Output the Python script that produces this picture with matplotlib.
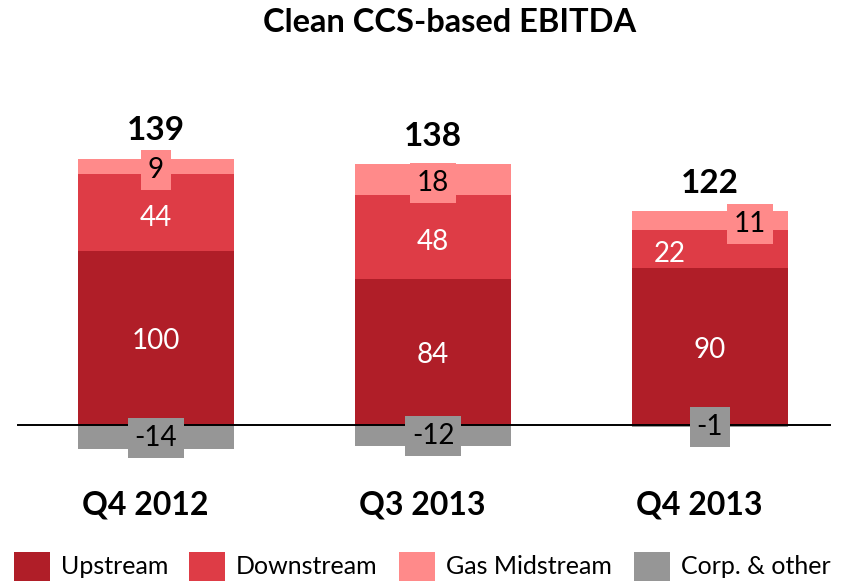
import matplotlib
matplotlib.use("Agg")
import matplotlib.pyplot as plt
from matplotlib.patches import Rectangle

plt.rcParams['font.family'] = ['Lato', 'DejaVu Sans']

# data
quarters = ['Q4 2012', 'Q3 2013', 'Q4 2013']
upstream = [100, 84, 90]
downstream = [44, 48, 22]
gas_midstream = [9, 18, 11]
corp_other = [-14, -12, -1]
totals = [139, 138, 122]

series_names = ['Upstream', 'Downstream', 'Gas Midstream', 'Corp. & other']
colors = ['#B01E28', '#DE3C46', '#FF8A8A', '#969696']

W, H = 845, 582
fig = plt.figure(figsize=(W / 100, H / 100), dpi=100)
ax = fig.add_axes([0, 0, 1, 1])
ax.axis('off')

# pixel layout: first bar centre at x=156, step 277 px; zero at y=425, 1.74 px per unit
step, x0 = 277.0, 156.0
ppu, y0 = 1.74, 425.0
ax.set_xlim(-x0 / step, (W - x0) / step)
ax.set_ylim(-(H - y0) / ppu, y0 / ppu)

x = list(range(len(quarters)))
bw = 156 / step

ax.bar(x, upstream, bw, color=colors[0], zorder=2)
ax.bar(x, downstream, bw, bottom=upstream, color=colors[1], zorder=2)
bottom2 = [u + d for u, d in zip(upstream, downstream)]
ax.bar(x, gas_midstream, bw, bottom=bottom2, color=colors[2], zorder=2)
ax.bar(x, corp_other, bw, color=colors[3], zorder=2)

ax.axhline(0, xmin=18 / W, xmax=830 / W, color='black', lw=1.4, zorder=3)

lab_fs = 20
# horizontal nudges for crowded labels (Q4 2013)
dx_down = [0, 0, -0.145]
dx_gas = [0, 0, 0.145]

for i in x:
    ax.text(i, upstream[i] / 2 - 2, str(upstream[i]), color='white', fontsize=lab_fs,
            ha='center', va='center', zorder=4)
    ax.text(i + dx_down[i], upstream[i] + downstream[i] / 2 - 3, str(downstream[i]),
            color='white', fontsize=lab_fs, ha='center', va='center', zorder=4)
    ax.text(i + dx_gas[i], bottom2[i] + gas_midstream[i] / 2 - 2, str(gas_midstream[i]),
            color='black', fontsize=lab_fs, ha='center', va='center', zorder=4,
            bbox=dict(boxstyle='square,pad=0.25', fc=colors[2], ec='none'))
    ax.text(i, corp_other[i] / 2 - 0.5, str(corp_other[i]), color='black', fontsize=lab_fs,
            ha='center', va='center', zorder=4,
            bbox=dict(boxstyle='square,pad=0.25', fc=colors[3], ec='none'))
    top = bottom2[i] + gas_midstream[i]
    ax.text(i, top + 16, str(totals[i]), fontsize=24, fontweight='bold',
            ha='center', va='center', zorder=4)
    ax.text(i - 0.04, -46, quarters[i], fontsize=23, fontweight='bold',
            ha='center', va='center', zorder=4)

fig.text(450 / W, 1 - 23 / H, 'Clean CCS-based EBITDA', fontsize=23.5,
         fontweight='bold', ha='center', va='center')

# legend drawn by hand so the squares land where the reference has them
leg_x = [14, 189, 399, 634]
for lx, name, c in zip(leg_x, series_names, colors):
    fig.patches.append(Rectangle((lx / W, 1 - 581 / H), 36 / W, 29 / H,
                                 transform=fig.transFigure, fc=c, ec='none'))
    fig.text((lx + 47) / W, 1 - 567 / H, name, fontsize=18, ha='left', va='center')

fig.savefig('out.png', dpi=100)
